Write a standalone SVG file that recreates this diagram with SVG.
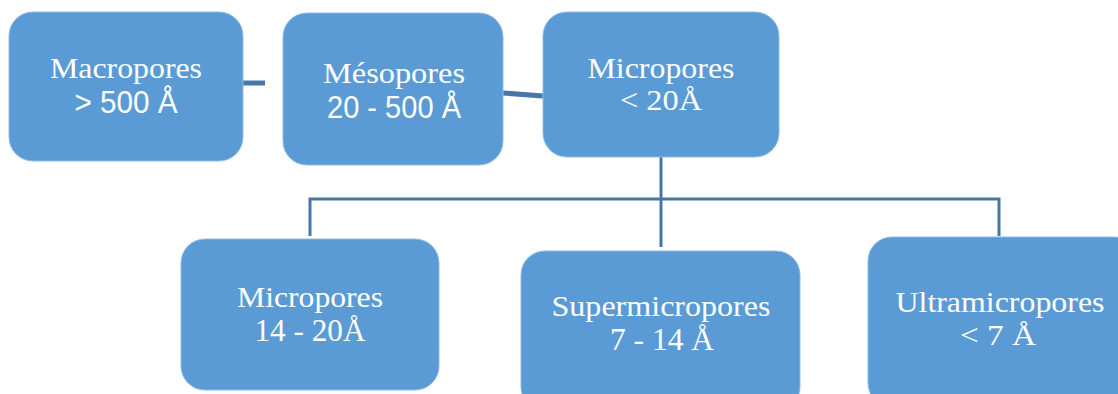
<svg xmlns="http://www.w3.org/2000/svg" width="1118" height="394" viewBox="0 0 1118 394">
  <style>
    .box { fill: #5B9BD5; stroke: #8fbbe4; stroke-width: 1; }
    .lbl { fill: #ffffff; font-family: "Liberation Serif", "Times New Roman", serif; font-size: 30px; text-anchor: middle; }
    .tall { font-size: 31px; }
    .cond { font-family: "Liberation Sans Narrow", "Liberation Sans", sans-serif; font-size: 31px; }
    .wire { fill: none; stroke: #4677a8; stroke-width: 3; }
    .thick { stroke-width: 5; }
  </style>

  <g id="connectors">
    <line class="wire thick" x1="243" y1="83" x2="265" y2="83"/>
    <line class="wire thick" x1="503" y1="93" x2="543" y2="96"/>
    <line class="wire" x1="661" y1="157" x2="661" y2="247"/>
    <polyline class="wire" points="310,236 310,199 999,199 999,236"/>
  </g>

  <g id="macropores">
    <rect class="box" x="9" y="12" width="234" height="149" rx="24"/>
    <text class="lbl" x="126" y="78" textLength="152" lengthAdjust="spacingAndGlyphs">Macropores</text>
    <text class="lbl cond" x="126" y="113" textLength="103" lengthAdjust="spacingAndGlyphs">&gt; 500 Å</text>
  </g>

  <g id="mesopores">
    <rect class="box" x="283" y="13" width="220" height="152" rx="24"/>
    <text class="lbl" x="394" y="83" textLength="142" lengthAdjust="spacingAndGlyphs">Mésopores</text>
    <text class="lbl cond" x="394" y="118" textLength="134" lengthAdjust="spacingAndGlyphs">20 - 500 Å</text>
  </g>

  <g id="micropores">
    <rect class="box" x="543" y="12" width="236" height="145" rx="24"/>
    <text class="lbl" x="661" y="78" textLength="147" lengthAdjust="spacingAndGlyphs">Micropores</text>
    <text class="lbl" x="661" y="110" textLength="82" lengthAdjust="spacingAndGlyphs">&lt; 20Å</text>
  </g>

  <g id="micropores-14-20">
    <rect class="box" x="181" y="239" width="258" height="151" rx="24"/>
    <text class="lbl" x="310" y="307" textLength="146" lengthAdjust="spacingAndGlyphs">Micropores</text>
    <text class="lbl tall" x="310" y="341" textLength="111" lengthAdjust="spacingAndGlyphs">14 - 20Å</text>
  </g>

  <g id="supermicropores">
    <rect class="box" x="521" y="251" width="279" height="160" rx="24"/>
    <text class="lbl" x="661" y="316" textLength="219" lengthAdjust="spacingAndGlyphs">Supermicropores</text>
    <text class="lbl tall" x="662" y="350" textLength="104" lengthAdjust="spacingAndGlyphs">7 - 14 Å</text>
  </g>

  <g id="ultramicropores">
    <rect class="box" x="868" y="237" width="270" height="170" rx="24"/>
    <text class="lbl" x="1000" y="312" textLength="209" lengthAdjust="spacingAndGlyphs">Ultramicropores</text>
    <text class="lbl" x="998" y="345" textLength="76" lengthAdjust="spacingAndGlyphs">&lt; 7 Å</text>
  </g>
</svg>
